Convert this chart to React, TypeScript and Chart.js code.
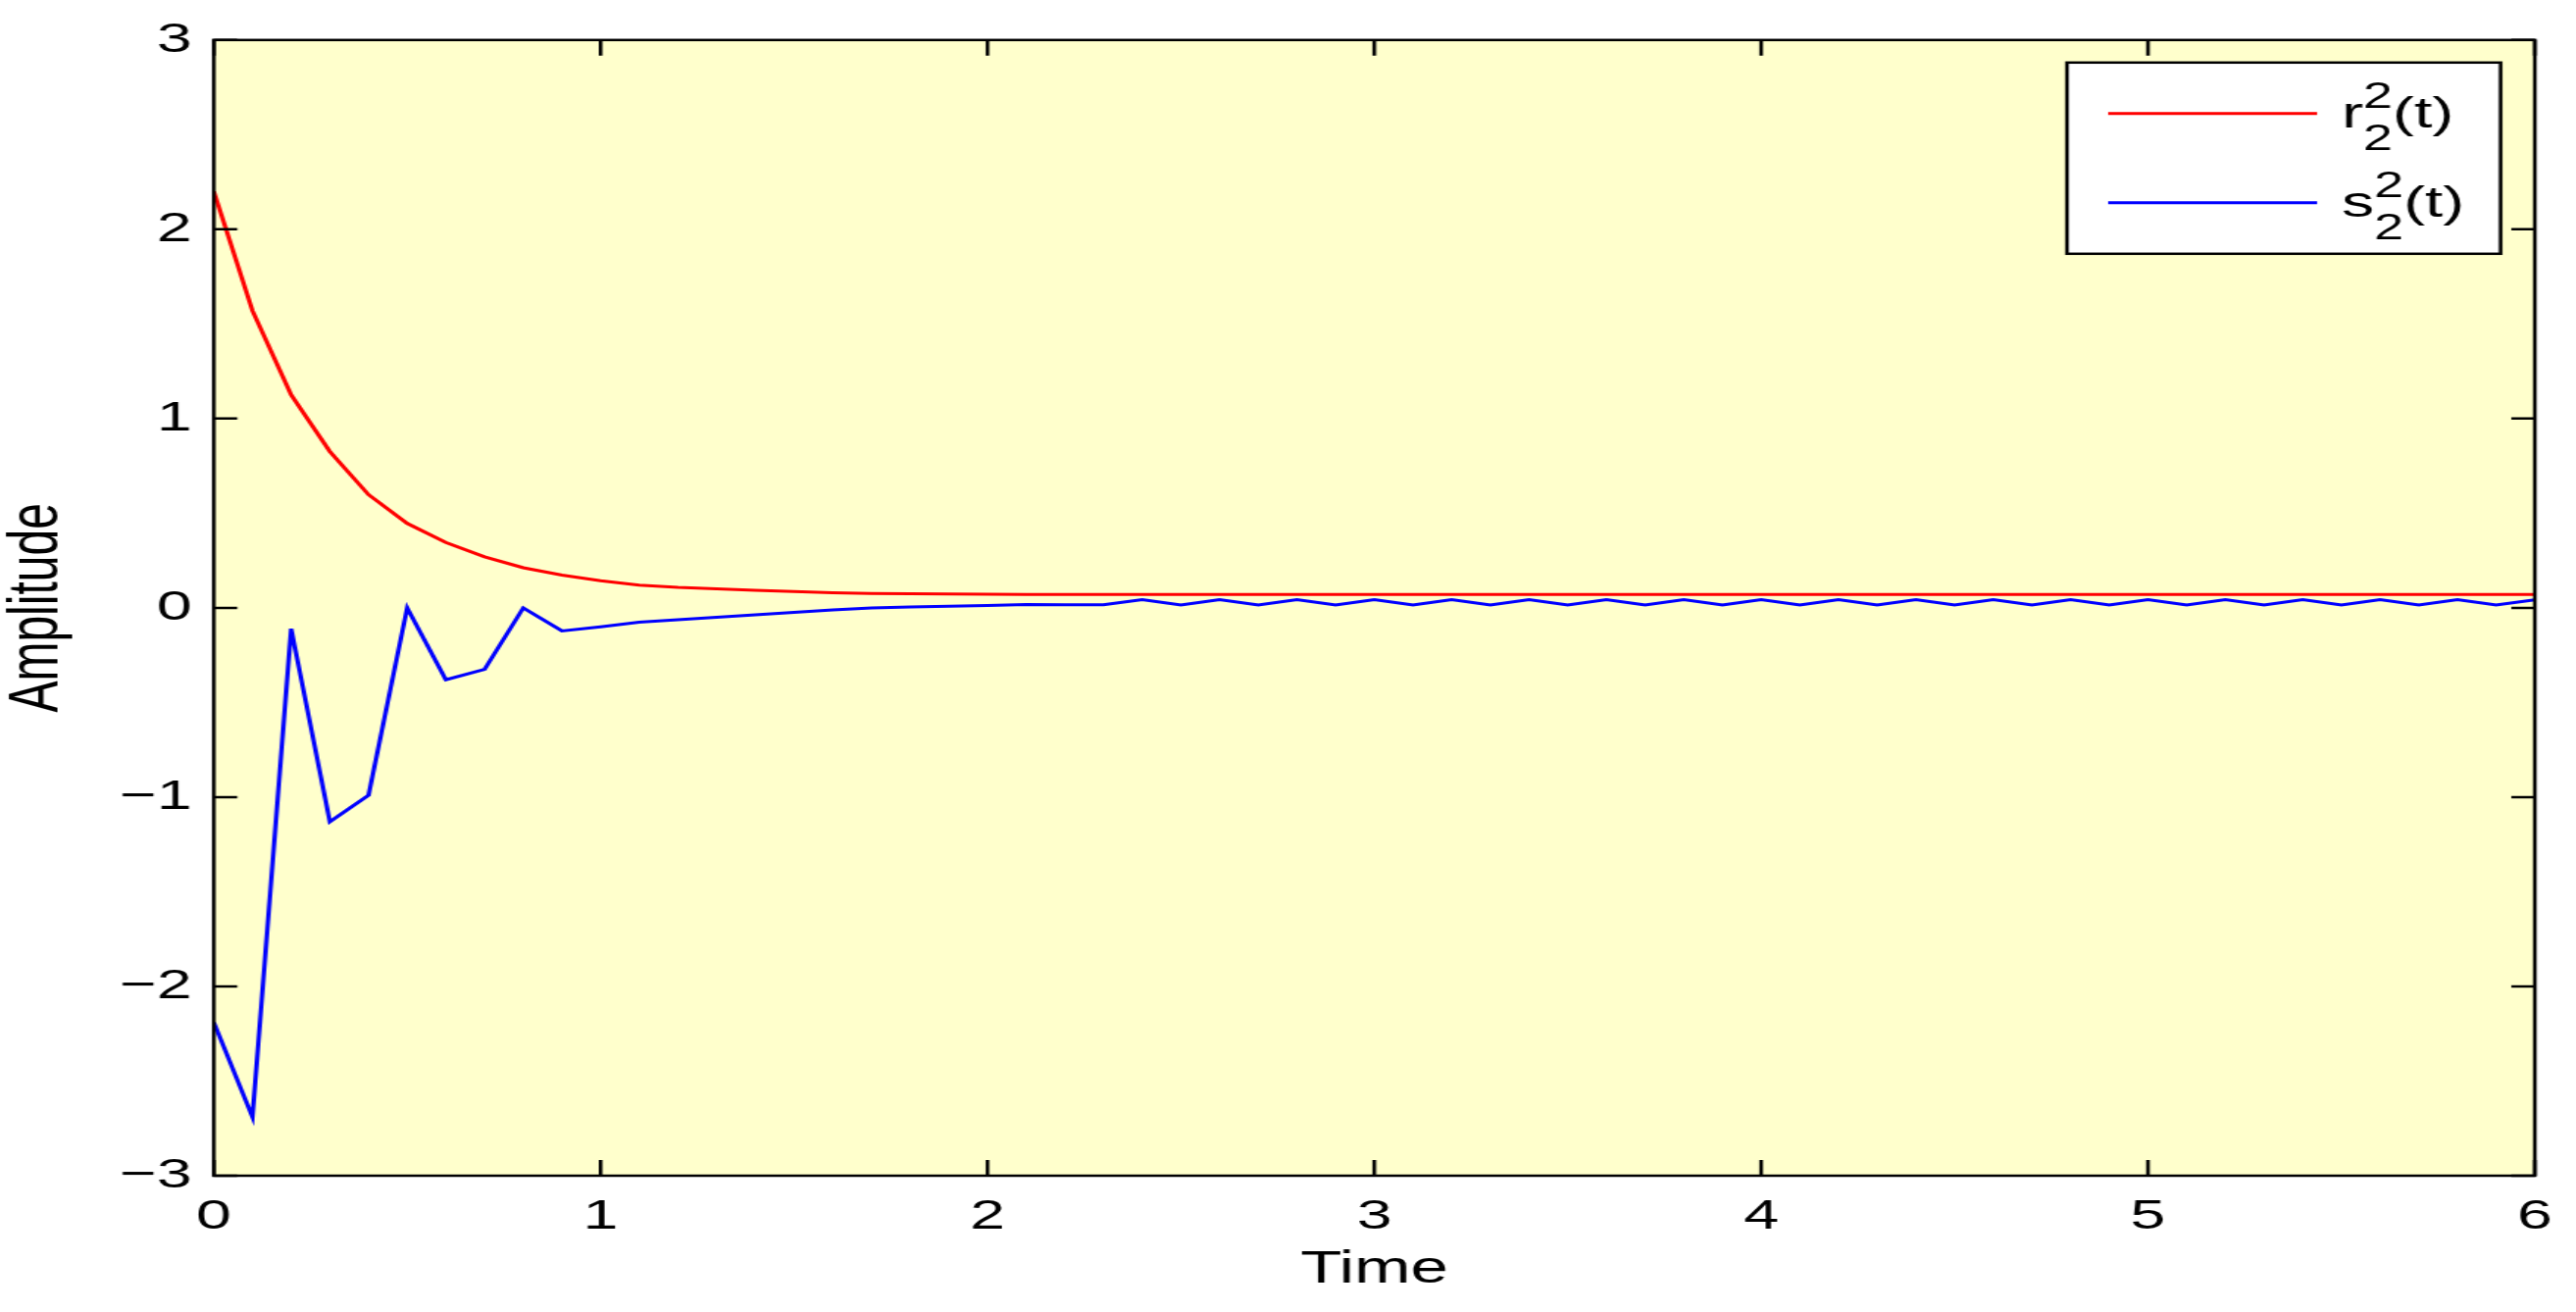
import React, { useEffect, useRef } from 'react';
import { Chart, registerables } from 'chart.js';

Chart.register(...registerables);

// ---------- data ----------
const timeValues = [
  0, 0.1, 0.2, 0.3, 0.4, 0.5, 0.6, 0.7, 0.8, 0.9,
  1.0, 1.1, 1.2, 1.3, 1.4, 1.5, 1.6, 1.7, 1.8, 1.9,
  2.0, 2.1, 2.2, 2.3, 2.4, 2.5, 2.6, 2.7, 2.8, 2.9,
  3.0, 3.1, 3.2, 3.3, 3.4, 3.5, 3.6, 3.7, 3.8, 3.9,
  4.0, 4.1, 4.2, 4.3, 4.4, 4.5, 4.6, 4.7, 4.8, 4.9,
  5.0, 5.1, 5.2, 5.3, 5.4, 5.5, 5.6, 5.7, 5.8, 5.9,
  6.0,
];

const rValues = [
  2.2, 1.57, 1.125, 0.826, 0.598, 0.446, 0.345, 0.27, 0.212, 0.173,
  0.143, 0.12, 0.108, 0.1, 0.093, 0.086, 0.08, 0.076, 0.074, 0.073,
  0.072, 0.071, 0.071, 0.071, 0.071, 0.071, 0.071, 0.071, 0.071, 0.071,
  0.071, 0.071, 0.071, 0.071, 0.071, 0.071, 0.071, 0.071, 0.071, 0.071,
  0.071, 0.071, 0.071, 0.071, 0.071, 0.071, 0.071, 0.071, 0.071, 0.071,
  0.071, 0.071, 0.071, 0.071, 0.071, 0.071, 0.071, 0.071, 0.071, 0.071,
  0.071,
];

const sValues = [
  -2.19, -2.69, -0.11, -1.13, -0.99, 0.0, -0.38, -0.325, 0.0, -0.122,
  -0.1, -0.076, -0.063, -0.05, -0.037, -0.024, -0.011, 0.0, 0.005, 0.008,
  0.012, 0.018, 0.016, 0.016, 0.043, 0.015, 0.043, 0.015, 0.043, 0.015,
  0.043, 0.015, 0.043, 0.015, 0.043, 0.015, 0.043, 0.015, 0.043, 0.015,
  0.043, 0.015, 0.043, 0.015, 0.043, 0.015, 0.043, 0.015, 0.043, 0.015,
  0.043, 0.015, 0.043, 0.015, 0.043, 0.015, 0.043, 0.015, 0.043, 0.015,
  0.043,
];

const xTickValues = [0, 1, 2, 3, 4, 5, 6];
const yTickValues = [-3, -2, -1, 0, 1, 2, 3];

const seriesLabels = ['r_2^2(t)', 's_2^2(t)'];
const legendBase = ['r', 's'];
const legendSup = ['2', '2'];
const legendSub = ['2', '2'];
const legendArg = '(t)';
const seriesColors = ['#ff0000', '#0000ff'];

const xTitle = 'Time';
const yTitle = 'Amplitude';

// ---------- layout ----------
const CSS_W = 2627;
const CSS_H = 1338;
const STRETCH = 1.5;
const CANVAS_W = Math.round(CSS_W / STRETCH);
const CANVAS_H = CSS_H;
const FONT = '"Liberation Sans", Arial, Helvetica, sans-serif';
const PLOT_BG = '#ffffcc';

const fmt = (v: number) => (v < 0 ? '\u2212' + String(Math.abs(v)) : String(v));

const framePlugin = {
  id: 'matlabFrame',
  beforeDraw(chart: any) {
    const { ctx, chartArea: a } = chart;
    ctx.save();
    ctx.fillStyle = PLOT_BG;
    ctx.fillRect(a.left, a.top, a.right - a.left, a.bottom - a.top);
    ctx.restore();
  },
  afterDatasetsDraw(chart: any) {
    const { ctx, chartArea: a } = chart;
    const xs = chart.scales.x;
    const ys = chart.scales.y;
    ctx.save();
    ctx.strokeStyle = '#000';
    ctx.lineWidth = 2.5;
    ctx.lineCap = 'butt';
    // ticks, inward on all four sides
    ctx.beginPath();
    ys.ticks.forEach((t: any) => {
      const py = ys.getPixelForValue(t.value);
      ctx.moveTo(a.left, py);
      ctx.lineTo(a.left + 16, py);
      ctx.moveTo(a.right, py);
      ctx.lineTo(a.right - 16, py);
    });
    xs.ticks.forEach((t: any) => {
      const px = xs.getPixelForValue(t.value);
      ctx.moveTo(px, a.bottom);
      ctx.lineTo(px, a.bottom - 16);
      ctx.moveTo(px, a.top);
      ctx.lineTo(px, a.top + 16);
    });
    ctx.stroke();
    // box
    ctx.strokeRect(a.left, a.top, a.right - a.left, a.bottom - a.top);

    // legend
    const w = 294.7;
    const h = 195;
    const bx = a.right - 23.3 - w;
    const by = a.top + 23;
    ctx.fillStyle = '#fff';
    ctx.fillRect(bx, by, w, h);
    ctx.strokeRect(bx, by, w, h);
    const rowY = [by + 52, by + 143];
    chart.data.datasets.forEach((ds: any, i: number) => {
      const ly = rowY[i];
      ctx.strokeStyle = ds.borderColor;
      ctx.lineWidth = 3;
      ctx.beginPath();
      ctx.moveTo(bx + 28, ly);
      ctx.lineTo(bx + 170, ly);
      ctx.stroke();
      ctx.fillStyle = '#000';
      ctx.textBaseline = 'alphabetic';
      ctx.textAlign = 'left';
      let x = bx + 186.7;
      ctx.font = `44px ${FONT}`;
      ctx.fillText(legendBase[i], x, ly + 14);
      x += ctx.measureText(legendBase[i]).width;
      ctx.font = `36px ${FONT}`;
      ctx.fillText(legendSup[i], x, ly - 6);
      ctx.fillText(legendSub[i], x, ly + 37);
      x += Math.max(ctx.measureText(legendSup[i]).width, ctx.measureText(legendSub[i]).width);
      ctx.font = `44px ${FONT}`;
      ctx.fillText(legendArg, x, ly + 14);
    });
    ctx.restore();
  },
};

export default function App() {
  const canvasRef = useRef<HTMLCanvasElement | null>(null);

  useEffect(() => {
    document.body.style.margin = '0';
    document.body.style.overflow = 'hidden';
    const canvas = canvasRef.current;
    if (!canvas) return;
    const chart = new Chart(canvas, {
      type: 'line',
      data: {
        datasets: [
          {
            label: seriesLabels[0],
            data: timeValues.map((t, i) => ({ x: t, y: rValues[i] })),
            borderColor: seriesColors[0],
            borderWidth: 3,
            pointRadius: 0,
            tension: 0,
            fill: false,
          },
          {
            label: seriesLabels[1],
            data: timeValues.map((t, i) => ({ x: t, y: sValues[i] })),
            borderColor: seriesColors[1],
            borderWidth: 3,
            pointRadius: 0,
            tension: 0,
            fill: false,
          },
        ],
      },
      options: {
        animation: false,
        responsive: false,
        maintainAspectRatio: false,
        devicePixelRatio: 1,
        events: [],
        layout: { padding: { left: 0, right: CANVAS_W - 1723, top: 35, bottom: 0 } },
        plugins: {
          legend: { display: false },
          tooltip: { enabled: false },
          title: { display: false },
        },
        scales: {
          x: {
            type: 'linear',
            min: 0,
            max: 6,
            afterBuildTicks: (s: any) => {
              s.ticks = xTickValues.map((v) => ({ value: v }));
            },
            afterFit: (s: any) => {
              s.height = 139;
            },
            grid: { display: false, drawTicks: false },
            border: { display: false },
            ticks: {
              color: '#000',
              font: { family: FONT, size: 43 },
              padding: 16,
              maxRotation: 0,
              autoSkip: false,
              callback: (v: any) => fmt(Number(v)),
            },
            title: {
              display: true,
              text: xTitle,
              color: '#000',
              font: { family: FONT, size: 46, lineHeight: 1 },
              padding: { top: 0, bottom: 20 },
            },
          },
          y: {
            type: 'linear',
            min: -3,
            max: 3,
            afterBuildTicks: (s: any) => {
              s.ticks = yTickValues.map((v) => ({ value: v }));
            },
            afterFit: (s: any) => {
              s.width = 145.3;
            },
            grid: { display: false, drawTicks: false },
            border: { display: false },
            ticks: {
              color: '#000',
              font: { family: FONT, size: 43 },
              padding: 15,
              autoSkip: false,
              callback: (v: any) => fmt(Number(v)),
            },
            title: {
              display: true,
              text: yTitle,
              color: '#000',
              font: { family: FONT, size: 48, lineHeight: 1 },
              padding: { top: 2, bottom: 0 },
            },
          },
        },
      },
      plugins: [framePlugin],
    } as any);
    return () => chart.destroy();
  }, []);

  return (
    <div style={{ position: 'absolute', left: 0, top: 0, width: CSS_W, height: CSS_H, background: '#fff' }}>
      <canvas
        ref={canvasRef}
        width={CANVAS_W}
        height={CANVAS_H}
        style={{ display: 'block', width: `${CSS_W}px`, height: `${CSS_H}px` }}
      />
    </div>
  );
}
